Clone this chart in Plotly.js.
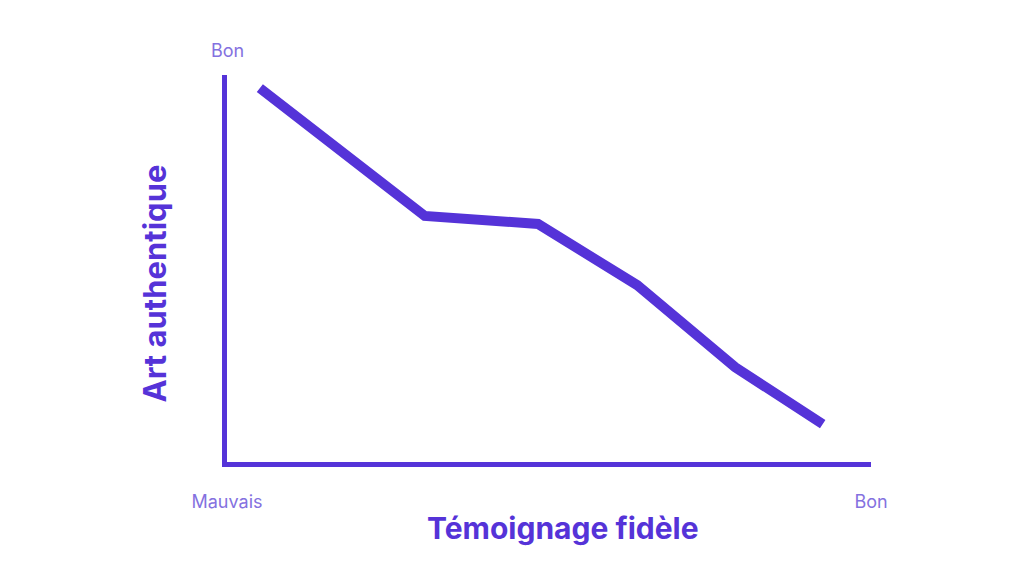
<!DOCTYPE html>
<html><head><meta charset="utf-8">
<script src="https://cdn.plot.ly/plotly-3.0.1.min.js"></script>
<style>html,body{margin:0;padding:0;background:#fff}#chart{width:1024px;height:576px}</style>
</head><body><div id="chart"></div>
<script>
const xVals = [5.1, 30.7, 48.3, 63.7, 78.9, 92.5];
const yVals = [96.6, 63.6, 61.5, 45.7, 24.5, 9.8];
const xTickVals = [0, 100];
const xTickText = ["Mauvais", "Bon"];
const yTopLabel = "Bon";
const xTitle = "Témoignage fidèle";
const yTitle = "Art authentique";

const main = "#5533d8";
const light = "#8471e0";

const trace = {x: xVals, y: yVals, mode: "lines", line: {color: main, width: 10}, hoverinfo: "skip"};

const layout = {
  width: 1024, height: 576,
  margin: {l: 227, r: 153, t: 75, b: 114},
  paper_bgcolor: "#fff", plot_bgcolor: "#fff",
  showlegend: false,
  xaxis: {range: [0, 100], showgrid: false, zeroline: false, showline: true, linecolor: main, linewidth: 5,
    tickvals: xTickVals, ticktext: xTickText, ticks: "", ticklabelstandoff: 19,
    tickfont: {family: "Inter, 'Open Sans', sans-serif", size: 18, color: light}, fixedrange: true},
  yaxis: {range: [0, 100], showgrid: false, zeroline: false, showline: true, linecolor: main, linewidth: 5,
    showticklabels: false, ticks: "", fixedrange: true},
  annotations: [
    {xref: "x", yref: "paper", x: 0, y: 1, yshift: 37, text: yTopLabel, showarrow: false,
     font: {family: "Inter, 'Open Sans', sans-serif", size: 18, color: light}},
    {xref: "paper", yref: "paper", x: (563 - 227) / 644, y: 0, yshift: -86, text: "<b>" + xTitle + "</b>", showarrow: false,
     font: {family: "Inter, 'Open Sans', sans-serif", size: 30, color: main}},
    {xref: "paper", yref: "paper", x: 0, xshift: -94, y: (462 - 284) / 387, text: "<b>" + yTitle + "</b>", textangle: -90, showarrow: false,
     font: {family: "Inter, 'Open Sans', sans-serif", size: 31, color: main}}
  ]
};
Plotly.newPlot("chart", [trace], layout, {displayModeBar: false, staticPlot: true});
</script></body></html>
